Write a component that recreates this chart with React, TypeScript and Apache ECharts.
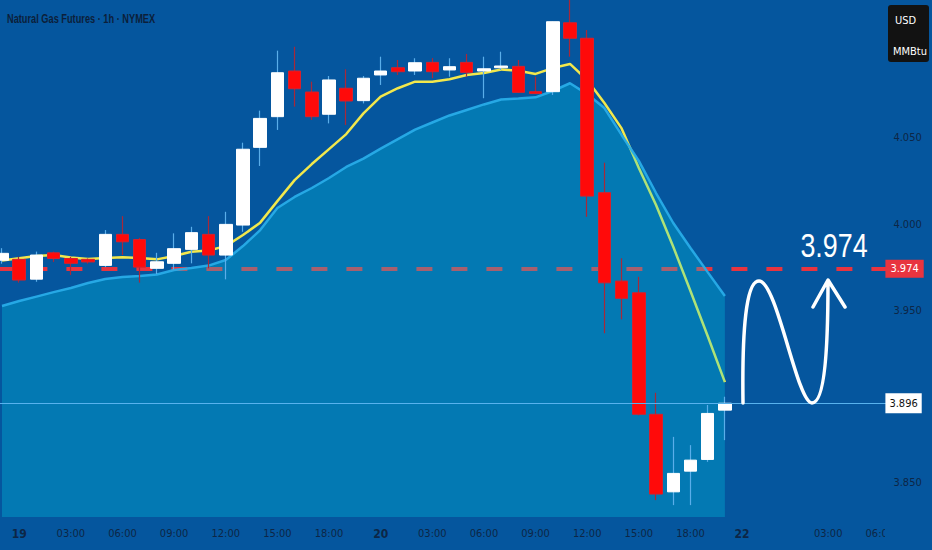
import React, { useEffect, useRef } from 'react';
import * as echarts from 'echarts';

// Axis tick labels, one per hourly slot (slot -1 … 50)
const xLabels = ['', '19', '', '', '03:00', '', '', '06:00', '', '', '09:00', '', '', '12:00', '', '', '15:00', '', '', '18:00', '', '', '20', '', '', '03:00', '', '', '06:00', '', '', '09:00', '', '', '12:00', '', '', '15:00', '', '', '18:00', '', '', '22', '', '', '', '', '03:00', '', '', '06:00'];
const dayLabels = ['19', '20', '22'];
// Price-scale labels that are shown
const yTickLabels = [3.85, 3.95, 4.0, 4.05];

// Hourly candles [open, high, low, close]
const ohlc: number[][] = [
  [3.979, 3.986, 3.977, 3.983],
  [3.9795, 3.981, 3.966, 3.9675],
  [3.968, 3.984, 3.9665, 3.982],
  [3.9833, 3.984, 3.978, 3.98],
  [3.98, 3.981, 3.9704, 3.9772],
  [3.9795, 3.98, 3.977, 3.978],
  [3.976, 3.9965, 3.975, 3.994],
  [3.994, 4.0046, 3.982, 3.9897],
  [3.991, 3.992, 3.966, 3.975],
  [3.9743, 3.9833, 3.971, 3.9781],
  [3.9772, 3.9946, 3.9737, 3.9857],
  [3.9853, 3.9984, 3.9772, 3.995],
  [3.994, 4.0046, 3.9743, 3.982],
  [3.982, 4.0071, 3.9679, 3.9998],
  [3.9994, 4.0472, 3.9955, 4.0434],
  [4.0445, 4.0658, 4.0337, 4.0613],
  [4.0623, 4.1006, 4.0546, 4.0878],
  [4.0888, 4.1029, 4.0681, 4.0785],
  [4.0766, 4.0826, 4.0604, 4.0623],
  [4.0637, 4.0859, 4.0584, 4.0836],
  [4.0788, 4.0898, 4.0575, 4.0714],
  [4.0716, 4.0859, 4.07, 4.0846],
  [4.0865, 4.0971, 4.0807, 4.0888],
  [4.0907, 4.0952, 4.0865, 4.0884],
  [4.0888, 4.0962, 4.0865, 4.0936],
  [4.0938, 4.0963, 4.0846, 4.0884],
  [4.0894, 4.0962, 4.0855, 4.0913],
  [4.0938, 4.0987, 4.0855, 4.088],
  [4.0888, 4.0971, 4.073, 4.0901],
  [4.0907, 4.1, 4.0894, 4.0917],
  [4.0915, 4.0952, 4.076, 4.0764],
  [4.0768, 4.0855, 4.0754, 4.0757],
  [4.0768, 4.1174, 4.0749, 4.1174],
  [4.1168, 4.135, 4.0971, 4.1078],
  [4.1078, 4.1126, 4.0042, 4.0162],
  [4.0182, 4.0356, 3.9366, 3.9659],
  [3.9669, 3.9801, 3.9447, 3.9569],
  [3.9601, 3.9694, 3.889, 3.8896],
  [3.8896, 3.9021, 3.8398, 3.8433],
  [3.8446, 3.8765, 3.8369, 3.8553],
  [3.8566, 3.8717, 3.8369, 3.863],
  [3.8634, 3.895, 3.862, 3.8901],
  [3.892, 3.8998, 3.8746, 3.896],
];

// Fast moving average (yellow)
const fastMA = [3.9788, 3.9801, 3.9814, 3.982, 3.9806, 3.9797, 3.9803, 3.9807, 3.9803, 3.9795, 3.9814, 3.9839, 3.9846, 3.9872, 3.9936, 4.0008, 4.0133, 4.0255, 4.0348, 4.0435, 4.0522, 4.0642, 4.0739, 4.0788, 4.0826, 4.0826, 4.084, 4.0865, 4.0876, 4.0897, 4.089, 4.0871, 4.0905, 4.0929, 4.0836, 4.0702, 4.0555, 4.0325, 4.011, 3.9868, 3.9611, 3.935, 3.9083];

// Slow moving average (filled area)
const slowMA = [3.9524, 3.9553, 3.9579, 3.9605, 3.9629, 3.9658, 3.9681, 3.9692, 3.9698, 3.9707, 3.9733, 3.9745, 3.9759, 3.9791, 3.9872, 3.9965, 4.0093, 4.0157, 4.0209, 4.0267, 4.0331, 4.038, 4.0438, 4.0493, 4.0548, 4.0589, 4.063, 4.0662, 4.0694, 4.0723, 4.0728, 4.0735, 4.0772, 4.0817, 4.0754, 4.0673, 4.0517, 4.0366, 4.018, 4.0006, 3.9861, 3.9721, 3.9582];

const targetLevel = 3.974;
const lastPrice = 3.896;
const yMin = 3.83;
const yMax = 4.13;

const BG = '#05569e';
const NAVY = '#0d2646';
const COND = "'DejaVu Sans Condensed', 'Liberation Sans', sans-serif";
const SANS = "'Liberation Sans', Arial, sans-serif";
const SHIFT = 7; // the chart box starts 7px left of the page edge

const ARROW_PATH =
  'M750 403 C749 330 753 281 766 281 C784 281 804 403 819 403 C832 403 835 345 835 282 M820 307 L835 280 L852 307';

export default function App() {
  const ref = useRef<HTMLDivElement>(null);
  useEffect(() => {
    const el = ref.current;
    if (!el) return;
    echarts.graphic.registerShape('sketchArrow', echarts.graphic.extendPath(ARROW_PATH, {}));
    const chart = echarts.init(el, null, { renderer: 'svg' });

    const categories = xLabels.map((_, i) => 'slot' + i);
    const wickData = ohlc.map(([o, h, l, c]) => [o, c, l, h]);
    const bodyData = ohlc.map(([o, , , c]) => [o, c, Math.min(o, c), Math.max(o, c)]);

    const option: any = {
      animation: false,
      backgroundColor: BG,
      grid: { left: 0.4, right: 43.6, top: 0, bottom: 33, containLabel: false },
      xAxis: {
        type: 'category',
        data: categories,
        boundaryGap: true,
        axisLine: { show: false },
        axisTick: { show: false },
        splitLine: { show: false },
        axisLabel: {
          interval: 0,
          margin: 11,
          color: NAVY,
          fontSize: 11,
          fontFamily: COND,
          formatter: (_v: string, idx: number) => {
            const l = xLabels[idx] || '';
            if (!l) return '';
            return dayLabels.includes(l) ? '{d|' + l + '}' : l;
          },
          rich: { d: { fontWeight: 'bold', fontSize: 12, color: NAVY, fontFamily: COND } },
        },
      },
      yAxis: {
        type: 'value',
        position: 'right',
        min: yMin,
        max: yMax,
        interval: 0.01,
        axisLine: { show: false },
        axisTick: { show: false },
        splitLine: { show: false },
        axisLabel: {
          margin: 5,
          color: NAVY,
          fontSize: 11,
          fontFamily: COND,
          formatter: (v: number) =>
            yTickLabels.some((t) => Math.abs(t - v) < 1e-6) ? v.toFixed(3) : '',
        },
      },
      series: [
        {
          name: 'fast',
          type: 'line',
          data: fastMA,
          showSymbol: false,
          symbol: 'none',
          z: 1,
          lineStyle: { color: '#f2e84c', width: 2.5 },
          markLine: {
            silent: true,
            z: 1,
            precision: 3,
            symbol: ['none', 'none'],
            data: [{ yAxis: targetLevel }],
            lineStyle: { color: '#e8343f', width: 4, type: [16, 19], dashOffset: 31.7 },
            label: {
              show: true,
              position: 'end',
              distance: -3,
              formatter: targetLevel.toFixed(3),
              backgroundColor: '#e8343f',
              color: '#ffffff',
              padding: [4, 5, 3, 5],
              fontSize: 11,
              fontFamily: COND,
            },
          },
        },
        {
          name: 'slow',
          type: 'line',
          data: slowMA,
          showSymbol: false,
          symbol: 'none',
          z: 2,
          lineStyle: { color: 'rgba(40,172,232,0.95)', width: 2.5 },
          areaStyle: { color: 'rgba(0,211,234,0.4)', origin: 'start' },
        },
        {
          name: 'wicks',
          type: 'candlestick',
          data: wickData,
          barWidth: 1,
          z: 3,
          itemStyle: {
            color: '#5aaeea',
            color0: '#a8283a',
            borderColor: '#5aaeea',
            borderColor0: '#a8283a',
            borderWidth: 1.2,
          },
        },
        {
          name: 'bodies',
          type: 'candlestick',
          data: bodyData,
          barWidth: 13,
          z: 4,
          itemStyle: {
            color: '#ffffff',
            color0: '#ff0a0a',
            borderColor: '#ffffff',
            borderColor0: '#d8202c',
            borderWidth: 1,
          },
          markLine: {
            silent: true,
            precision: 3,
            symbol: ['none', 'none'],
            data: [{ yAxis: lastPrice }],
            lineStyle: { color: '#58b2ee', width: 1, type: 'solid' },
            label: {
              show: true,
              position: 'end',
              distance: -3,
              formatter: lastPrice.toFixed(3),
              backgroundColor: '#ffffff',
              color: '#111111',
              padding: [5, 4, 4, 4],
              fontSize: 11,
              fontFamily: COND,
            },
          },
        },
      ],
      graphic: [
        {
          type: 'text',
          x: 7 + SHIFT,
          y: 18,
          scaleX: 0.71,
          z: 100,
          style: {
            text: 'Natural Gas Futures · 1h · NYMEX',
            fill: '#0c1f3a',
            fontSize: 13,
            fontWeight: 'bold',
            fontFamily: SANS,
            verticalAlign: 'middle',
            align: 'left',
          },
        },
        {
          type: 'text',
          x: 834 + SHIFT,
          y: 245,
          scaleX: 0.79,
          z: 100,
          style: {
            text: '3.974',
            fill: '#ffffff',
            fontSize: 34,
            fontFamily: SANS,
            verticalAlign: 'middle',
            align: 'center',
          },
        },
        {
          type: 'sketchArrow',
          x: 0,
          y: 0,
          z: 100,
          style: { fill: 'none', stroke: '#ffffff', lineWidth: 3.5, lineCap: 'round', lineJoin: 'round' },
        },
        {
          type: 'rect',
          z: 100,
          shape: { x: 885 + SHIFT, y: 519, width: 47, height: 31 },
          style: { fill: BG },
        },
        {
          type: 'rect',
          z: 100,
          shape: { x: 888 + SHIFT, y: 5, width: 41, height: 57, r: 3 },
          style: { fill: '#121212' },
        },
        {
          type: 'text',
          x: 895 + SHIFT,
          y: 20,
          z: 101,
          style: { text: 'USD', fill: '#ffffff', fontSize: 11, fontFamily: COND, verticalAlign: 'middle' },
        },
        {
          type: 'text',
          x: 893 + SHIFT,
          y: 51,
          z: 101,
          style: { text: 'MMBtu', fill: '#ffffff', fontSize: 11, fontFamily: COND, verticalAlign: 'middle' },
        },
      ],
    };

    chart.setOption(option);
    return () => chart.dispose();
  }, []);

  return (
    <div
      ref={ref}
      style={{ position: 'fixed', left: -SHIFT, top: 0, width: 932 + SHIFT, height: 550, background: BG }}
    />
  );
}
